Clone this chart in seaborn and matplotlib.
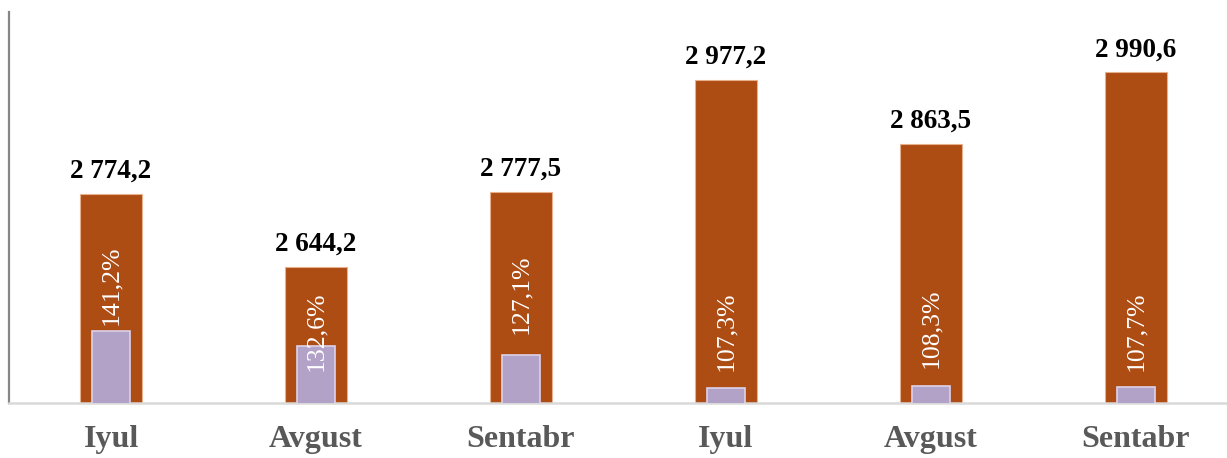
import matplotlib
matplotlib.use("Agg")
import matplotlib.pyplot as plt
import matplotlib.transforms as mtransforms
import seaborn as sns
import pandas as pd

# chart data
months = ["Iyul", "Avgust", "Sentabr", "Iyul", "Avgust", "Sentabr"]
volume = [2774.2, 2644.2, 2777.5, 2977.2, 2863.5, 2990.6]
growth = [141.2, 132.6, 127.1, 107.3, 108.3, 107.7]

# vertical placement of the rotated % labels (axes fraction)
pct_label_y = [0.30, 0.184, 0.279, 0.184, 0.19, 0.184]

sns.set_theme(style="white")
plt.rcParams['font.family'] = ['Liberation Serif', 'DejaVu Serif']

df = pd.DataFrame({
    "key": [f"{m}_{i}" for i, m in enumerate(months)],
    "month": months,
    "volume": volume,
    "growth": growth,
})

BROWN = "#ad4c13"
PURPLE = "#b3a2c7"

fig = plt.figure(figsize=(12.27, 4.58), dpi=100)
ax = fig.add_axes([9 / 1227, 55 / 458, 1 - 9 / 1227, 391 / 458])

sns.barplot(data=df, x="key", y="volume", color=BROWN, width=0.30,
            saturation=1, edgecolor="#e8b08c", linewidth=0.8, ax=ax)
ax.set_ylim(2402, 3098)

ax2 = ax.twinx()
sns.barplot(data=df, x="key", y="growth", color=PURPLE, width=0.19,
            saturation=1, edgecolor="#dcd2ea", linewidth=1.2, ax=ax2)
ax2.set_ylim(98.4, 331)
ax2.set_yticks([])
ax2.set_ylabel("")
for s in ax2.spines.values():
    s.set_visible(False)

ax.set_xlim(-0.4976, 5.444)

# value labels on top of the brown bars
for i, v in enumerate(df["volume"]):
    txt = f"{v:,.1f}".replace(",", " ").replace(".", ",")
    ax.annotate(txt, (i, v), xytext=(0, 11.5), textcoords="offset points",
                ha="center", va="baseline", fontsize=19.5, fontweight="bold",
                color="black")

# rotated % labels
trans = mtransforms.blended_transform_factory(ax.transData, ax.transAxes)
for i, g in enumerate(df["growth"]):
    ax2.text(i, pct_label_y[i], f"{g:.1f}%".replace(".", ","), transform=trans,
             rotation=90, ha="center", va="center", fontsize=18.5,
             color="white", zorder=5)

ax.set_xticks(range(len(months)))
ax.set_xticklabels(months, fontsize=23, fontweight="bold", color="#595959")
ax.tick_params(axis="x", length=0, pad=16)
ax.set_yticks([])
ax.set_xlabel("")
ax.set_ylabel("")
ax.spines["top"].set_visible(False)
ax.spines["right"].set_visible(False)
ax.spines["left"].set_color("#868686")
ax.spines["left"].set_linewidth(1.6)
ax.spines["bottom"].set_color("#d9d9d9")
ax.spines["bottom"].set_linewidth(1.8)

fig.savefig("out.png", dpi=100)
